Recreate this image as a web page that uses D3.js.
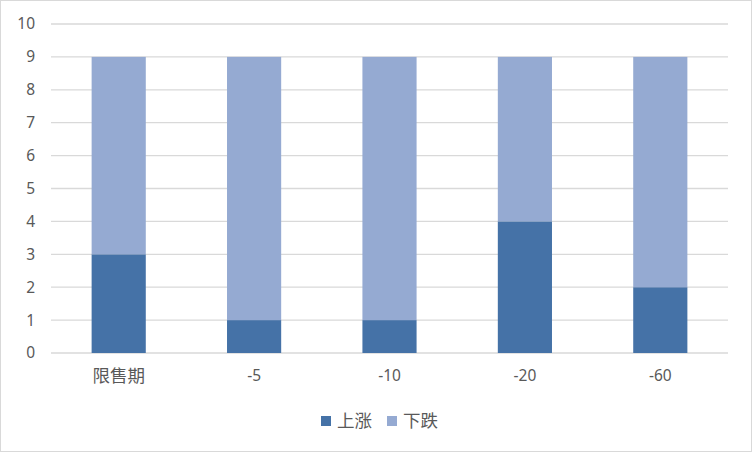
<!DOCTYPE html>
<html>
<head>
<meta charset="utf-8">
<script src="https://cdn.jsdelivr.net/npm/d3@7"></script>
<style>
  html, body { margin: 0; padding: 0; background: #fff; }
  svg { display: block; }
  text { font-family: "Noto Sans", "Noto Sans CJK SC", sans-serif; fill: #595959; }
</style>
</head>
<body>
<svg id="chart" width="752" height="452"></svg>
<script>
const categories = ["限售期", "-5", "-10", "-20", "-60"];
const upValues = [3, 1, 1, 4, 2];
const downValues = [6, 8, 8, 5, 7];
const seriesNames = ["上涨", "下跌"];
const yTicks = [0, 1, 2, 3, 4, 5, 6, 7, 8, 9, 10];

const colors = ["#4572a7", "#95aad2"];
const isCJK = s => /[\u4e00-\u9fff]/.test(s);

const svg = d3.select("#chart");
svg.append("rect")
  .attr("x", 0.5).attr("y", 0.5)
  .attr("width", 751).attr("height", 451)
  .attr("fill", "#fff").attr("stroke", "#d9d9d9");

const margin = { top: 24, right: 24, bottom: 99, left: 51 },
      width = 752 - margin.left - margin.right,
      height = 452 - margin.top - margin.bottom;

const g = svg.append("g").attr("transform", `translate(${margin.left},${margin.top})`);

const x = d3.scaleBand().domain(categories).range([0, width]).paddingInner(0.6).paddingOuter(0.3);
const y = d3.scaleLinear().domain([0, 10]).range([height, 0]);

// gridlines
g.selectAll("line.grid")
  .data(yTicks)
  .enter().append("line")
  .attr("class", "grid")
  .attr("x1", 0).attr("x2", width)
  .attr("y1", d => y(d)).attr("y2", d => y(d))
  .attr("stroke", "#d9d9d9").attr("stroke-width", 1.3);

const rows = categories.map((c, i) => ({ cat: c, up: upValues[i], down: downValues[i] }));
const stack = d3.stack().keys(["up", "down"])(rows);

g.selectAll("g.series")
  .data(stack)
  .enter().append("g")
  .attr("fill", (d, i) => colors[i])
  .selectAll("rect")
  .data(d => d)
  .enter().append("rect")
  .attr("x", d => x(d.data.cat))
  .attr("y", d => y(d[1]))
  .attr("width", x.bandwidth())
  .attr("height", d => y(d[0]) - y(d[1]));

// y axis labels
const yAxis = g.append("g").call(d3.axisLeft(y).tickValues(yTicks).tickSize(0).tickPadding(16));
yAxis.select(".domain").remove();
yAxis.selectAll("text").attr("font-size", "15.5px").attr("fill", "#595959");

// x axis labels
const xAxis = g.append("g").attr("transform", `translate(0,${height})`)
  .call(d3.axisBottom(x).tickSize(0).tickPadding(17));
xAxis.select(".domain").remove();
xAxis.selectAll("text")
  .attr("font-size", d => isCJK(d) ? "17.5px" : "15.5px")
  .attr("font-family", d => isCJK(d) ? "Noto Sans CJK SC" : null)
  .attr("fill", "#595959");

// legend
const legend = svg.append("g").attr("transform", "translate(321,416)");
const items = [{ name: seriesNames[0], x: 0 }, { name: seriesNames[1], x: 66 }];
items.forEach((it, i) => {
  legend.append("rect").attr("x", it.x).attr("y", 0).attr("width", 10).attr("height", 10).attr("fill", colors[i]);
  legend.append("text").attr("x", it.x + 16).attr("y", 5).attr("dy", "0.36em")
    .attr("font-family", "Noto Sans CJK SC")
    .attr("font-size", "17.5px").text(it.name);
});
</script>
</body>
</html>
